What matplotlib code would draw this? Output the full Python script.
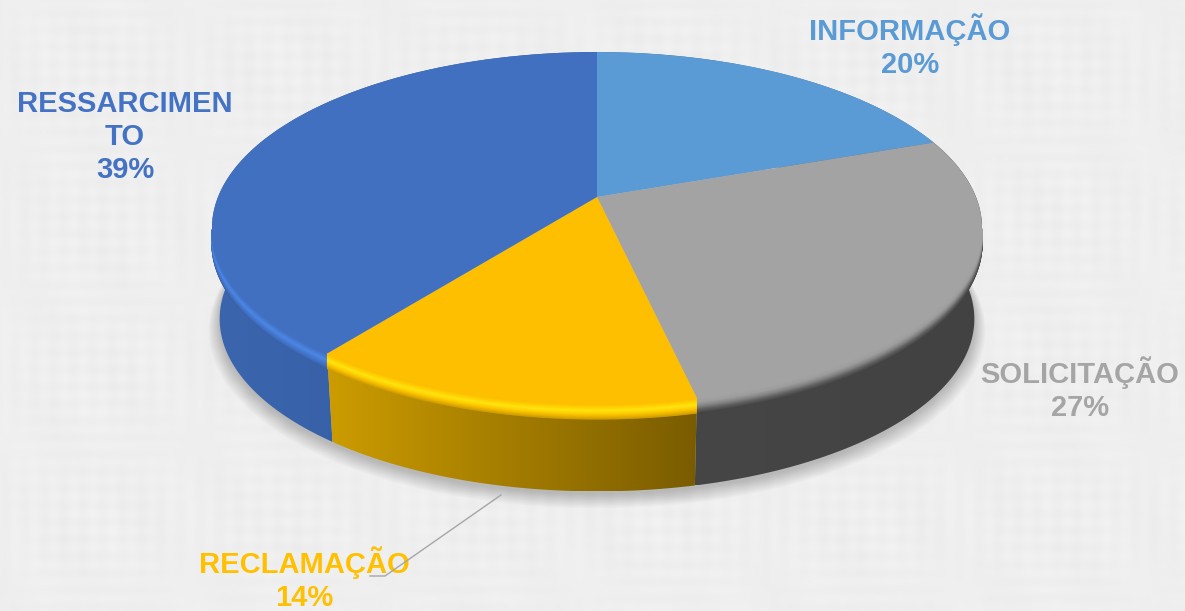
import numpy as np
import matplotlib
matplotlib.use("Agg")
import matplotlib.pyplot as plt
from matplotlib.colors import LinearSegmentedColormap
from matplotlib.patches import Polygon
from matplotlib.transforms import Transform

# ---- data ----
categories = ["INFORMAÇÃO", "SOLICITAÇÃO", "RECLAMAÇÃO", "RESSARCIMEN\nTO"]
shares = [19.5, 27.0, 14.0, 39.5]          # slice sizes as measured on the picture
percent_labels = ["20%", "27%", "14%", "39%"]  # as printed

# ---- style ----
top_colors = ["#5B9BD5", "#A3A3A3", "#FDBF00", "#4170C1"]
text_colors = ["#5B9BD5", "#A5A5A5", "#FFC000", "#4472C4"]
wall_ramps = [["#3F6F9A", "#3F6F9A"], ["#464646", "#424242"],
              ["#CC9C00", "#7A5C00"], ["#3B66AE", "#30579A"]]
bevel_ramps = [["#5B9BD5", "#5B9BD5"], ["#A3A3A3", "#9E9E9E", "#858585", "#5E5E5E", "#444444"],
               ["#FDBF00", "#FFD200", "#FFE412", "#FFD000", "#F0B400", "#C89A00"],
               ["#4170C1", "#477CD4", "#4B88E6", "#477CD4", "#416FC0", "#3860A5"]]
label_pos = [(910, 46), (1080, 389), (304, 579), (125, 137)]
W, H = 1185, 611
CX, CY, A, B, K = 597.0, 197.0, 379.0, 170.5, 0.1763
WALL_DY, WALL_SCALE, BEVEL = 91.5, 0.98, 15


class Perspective(Transform):
    """Unit-circle pie coordinates -> tilted-pie pixel coordinates."""
    input_dims = 2
    output_dims = 2

    def transform_non_affine(self, pts):
        pts = np.asarray(pts, float)
        den = 1 + K * pts[:, 1]
        return np.column_stack([CX + A * pts[:, 0] / den, CY - B * pts[:, 1] / den])


def rim(theta, scale=1.0, dy=0.0):
    u, v = np.sin(theta), np.cos(theta)
    den = 1 + K * v
    return CX + scale * A * u / den, CY + dy - scale * B * v / den


fig = plt.figure(figsize=(W / 100, H / 100), dpi=100)
ax = fig.add_axes([0, 0, 1, 1])

# woven paper background
xx, yy = np.meshgrid(np.arange(W), np.arange(H))
weave = (np.sin(xx / 3.1) * np.sin(yy / 47.0) + np.sin(yy / 2.7) * np.sin(xx / 61.0)
         + 0.8 * np.sin((xx + 2 * yy) / 83.0) * np.sin((2 * xx - yy) / 29.0))
ax.imshow(238 + 1.3 * weave, cmap="gray", vmin=0, vmax=255, extent=(0, W, H, 0),
          aspect="auto", zorder=0, interpolation="bilinear")

# soft shadow under the pie
tt = np.linspace(0, 2 * np.pi, 361)
for grow in np.linspace(0, 16, 14):
    sx, sy = rim(tt, WALL_SCALE + grow / 550, WALL_DY + 3 + grow / 2)
    ax.add_patch(Polygon(np.column_stack([sx, sy]), fc="black", ec="none", alpha=0.016, zorder=1))

# pie top, through the library's pie layout
wedges, _ = ax.pie(shares, colors=top_colors, startangle=90, counterclock=False, radius=1.0)
persp = Perspective() + ax.transData
for w in wedges:
    w.set_transform(persp)
    w.set_zorder(3)
    w.set_edgecolor("none")

# slice angles, clockwise from the top
edges = np.radians(np.concatenate([[0], np.cumsum(shares)]) / np.sum(shares) * 360)
front_lo, front_hi = np.arccos(-K), 2 * np.pi - np.arccos(-K)

# walls (back to front) and rim bevels
for i in [0, 3, 1, 2]:
    th = np.linspace(edges[i], edges[i + 1], 240)
    x0, y0 = rim(th)
    x1, y1 = rim(th, WALL_SCALE, WALL_DY)
    poly = Polygon(np.column_stack([np.r_[x0, x1[::-1]], np.r_[y0, y1[::-1]]]),
                   fc="none", ec="none", transform=ax.transData)
    ax.add_patch(poly)
    px = np.r_[x0, x1]
    py = np.r_[y0, y1]
    cmap = LinearSegmentedColormap.from_list("w", wall_ramps[i])
    im = ax.imshow(np.linspace(0, 1, 256)[None, :], cmap=cmap, vmin=0, vmax=1,
                   extent=(px.min(), px.max(), py.max(), py.min()),
                   aspect="auto", zorder=2)
    im.set_clip_path(poly)
    # rounded edge: band that falls from the flat top to the wall
    front = (th >= front_lo) & (th <= front_hi)
    if front.sum() > 1:
        bev = LinearSegmentedColormap.from_list("b", bevel_ramps[i])
        for t in np.linspace(0, 1, 3 * BEVEL):
            ax.plot(x0[front], y0[front] + t * BEVEL, color=bev(t), lw=0.9, zorder=4 - t * 0.1,
                    solid_capstyle="butt")

# labels
for name, pct, col, (lx, ly) in zip(categories, percent_labels, text_colors, label_pos):
    ax.text(lx, ly, f"{name}\n{pct}", color=col, ha="center", va="center", zorder=6,
            family="Liberation Sans", fontweight="bold", fontsize=21, linespacing=1.24)

# leader line of the RECLAMAÇÃO label
ax.plot([501, 385, 370], [495, 576, 576], color="#A6A6A6", lw=1.0, zorder=7)

ax.set_aspect("auto")
ax.set_xlim(0, W)
ax.set_ylim(H, 0)
ax.axis("off")
fig.savefig("out.png", dpi=100)
